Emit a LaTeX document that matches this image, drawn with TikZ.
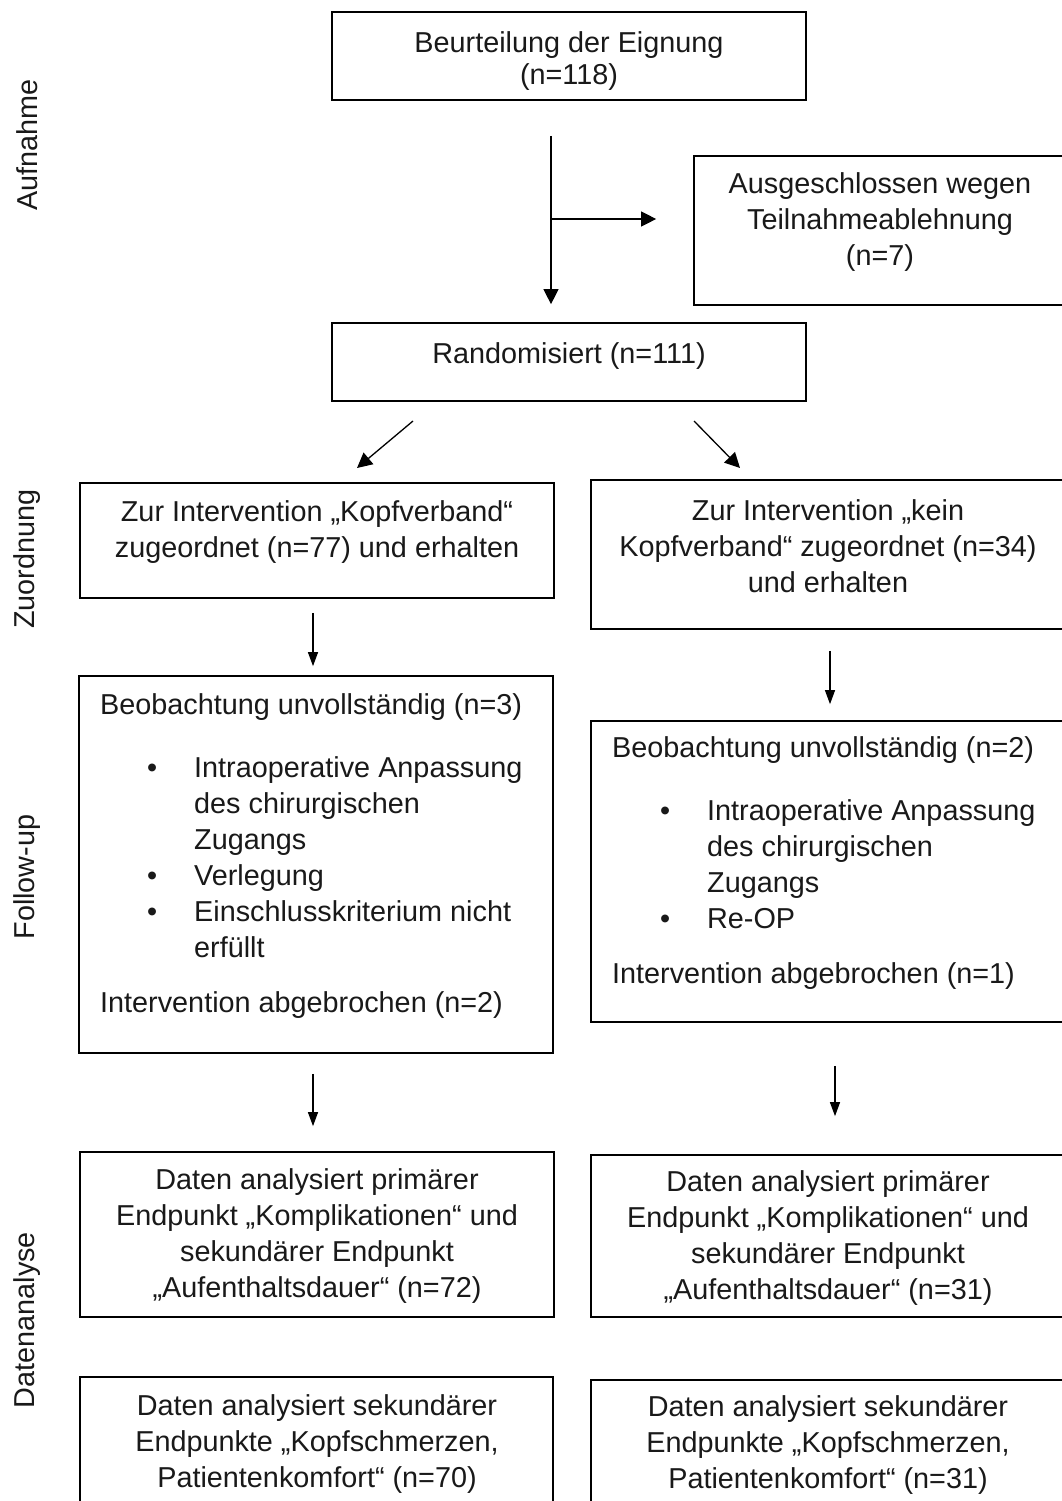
\documentclass[tikz,border=0pt]{standalone}
\usepackage{fontspec}
\setmainfont{Liberation Sans}
\usetikzlibrary{arrows.meta,calc}
\begin{document}
\begin{tikzpicture}[x=1pt,y=-1pt,
  box/.style={draw, line width=1.7pt, inner sep=0pt},
  basetxt/.style={font=\fontsize{28.8}{36}\selectfont, align=center, inner sep=0pt, text=black!90},
  txt/.style={basetxt, yshift=-3pt},
  ltxt/.style={txt, align=left, anchor=west},
  side/.style={basetxt, rotate=90},
  arrbig/.style={line width=1.3pt, -{Triangle[length=15pt,width=15pt]}},
  arrsmall/.style={line width=1.2pt, -{Triangle[length=14pt,width=10pt]}}
]
\useasboundingbox[fill=white] (0,0) rectangle (1061,1501);

% boxes
\node[box, minimum width=474pt, minimum height=88pt] (top) at (569,56) {};
\node[box, minimum width=369pt, minimum height=149pt] (excl) at (878.5,230.5) {};
\node[box, minimum width=474pt, minimum height=78pt] (rand) at (569,362) {};
\node[box, minimum width=474pt, minimum height=115pt] (zl) at (317,540.5) {};
\node[box, minimum width=472pt, minimum height=149pt] (zr) at (827,554.5) {};
\node[box, minimum width=474pt, minimum height=377pt] (fl) at (316,864.5) {};
\node[box, minimum width=472pt, minimum height=301pt] (fr) at (827,871.5) {};
\node[box, minimum width=474pt, minimum height=165pt] (dl) at (317,1234.5) {};
\node[box, minimum width=472pt, minimum height=162pt] (dr) at (827,1236) {};
\node[box, minimum width=473pt, minimum height=133pt] (el) at (316.5,1443.5) {};
\node[box, minimum width=472pt, minimum height=130pt] (er) at (827,1445) {};

% texts
\node[txt] (toptxt) at (569,58) {Beurteilung der Eignung\\[-4pt](n=118)};
\node[txt] (excltxt) at (880,219.5) {Ausgeschlossen wegen\\Teilnahmeablehnung\\(n=7)};
\node[txt] (randtxt) at (569,353) {Randomisiert (n=111)};
\node[txt] (zltxt) at (317,529) {Zur Intervention „Kopfverband“\\zugeordnet (n=77) und erhalten};
\node[txt] (zrtxt) at (828,543) {Zur Intervention „kein\\Kopfverband“ zugeordnet (n=34)\\und erhalten};

\node[ltxt] (flhead) at (100,704) {Beobachtung unvollständig (n=3)};
\node[ltxt] (flbul) at (147,854) {\makebox[47pt][l]{\textbullet}Intraoperative Anpassung\\
\hspace*{47pt}des chirurgischen\\
\hspace*{47pt}Zugangs\\
\makebox[47pt][l]{\textbullet}Verlegung\\
\makebox[47pt][l]{\textbullet}Einschlusskriterium nicht\\
\hspace*{47pt}erfüllt};
\node[ltxt] (flfoot) at (100,1002) {Intervention abgebrochen (n=2)};

\node[ltxt] (frhead) at (612,747) {Beobachtung unvollständig (n=2)};
\node[ltxt] (frbul) at (660,861) {\makebox[47pt][l]{\textbullet}Intraoperative Anpassung\\
\hspace*{47pt}des chirurgischen\\
\hspace*{47pt}Zugangs\\
\makebox[47pt][l]{\textbullet}Re-OP};
\node[ltxt] (frfoot) at (612,973) {Intervention abgebrochen (n=1)};

\node[txt] (dltxt) at (317,1233.5) {Daten analysiert primärer\\Endpunkt „Komplikationen“ und\\sekundärer Endpunkt\\„Aufenthaltsdauer“ (n=72)};
\node[txt] (drtxt) at (828,1235.5) {Daten analysiert primärer\\Endpunkt „Komplikationen“ und\\sekundärer Endpunkt\\„Aufenthaltsdauer“ (n=31)};
\node[txt] (eltxt) at (317,1441) {Daten analysiert sekundärer\\Endpunkte „Kopfschmerzen,\\Patientenkomfort“ (n=70)};
\node[txt] (ertxt) at (828,1442.5) {Daten analysiert sekundärer\\Endpunkte „Kopfschmerzen,\\Patientenkomfort“ (n=31)};

% side labels
\node[side] (s1) at (27,145) {Aufnahme};
\node[side] (s2) at (27,559) {Zuordnung};
\node[side] (s3) at (27,877) {Follow-up};
\node[side] (s4) at (27,1320) {Datenanalyse};

% connectors
\draw[arrbig, shorten <=35pt, shorten >=18pt] ($(top.south)+(-18,0)$) -- ($(rand.north)+(-18,0)$);
\coordinate (split) at (551,219);
\draw[arrbig, shorten >=37pt] (split) -- (excl.west |- split);
\coordinate (d1s) at (413,421);
\coordinate (d1e) at (357,468);
\coordinate (d2s) at (694,421);
\coordinate (d2e) at (740,468);
\draw[arrbig] (d1s) -- (d1e);
\draw[arrbig] (d2s) -- (d2e);
\draw[arrsmall, shorten <=14pt, shorten >=9pt] ($(zl.south)+(-4,0)$) -- ($(fl.north)+(-3,0)$);
\draw[arrsmall, shorten <=21pt, shorten >=16pt] ($(zr.south)+(3,0)$) -- ($(fr.north)+(3,0)$);
\draw[arrsmall, shorten <=20pt, shorten >=25pt] ($(fl.south)+(-3,0)$) -- ($(dl.north)+(-4,0)$);
\draw[arrsmall, shorten <=43pt, shorten >=38pt] ($(fr.south)+(8,0)$) -- ($(dr.north)+(8,0)$);
\end{tikzpicture}
\end{document}
